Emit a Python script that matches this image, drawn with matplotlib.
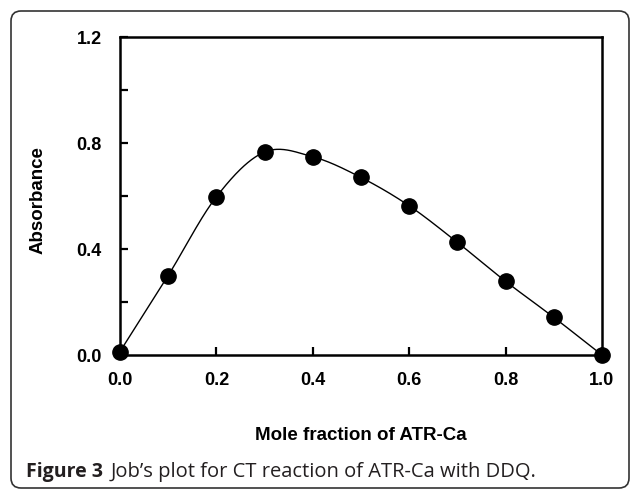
import numpy as np
import matplotlib
matplotlib.use("Agg")
import matplotlib.pyplot as plt
from matplotlib.patches import FancyBboxPatch

mole_fraction = [0.0, 0.1, 0.2, 0.3, 0.4, 0.5, 0.6, 0.7, 0.8, 0.9, 1.0]
absorbance = [0.013, 0.30, 0.597, 0.766, 0.748, 0.670, 0.563, 0.425, 0.278, 0.142, 0.0]
x_ticks = [0.0, 0.2, 0.4, 0.6, 0.8, 1.0]
y_ticks = [0.0, 0.2, 0.4, 0.6, 0.8, 1.0, 1.2]
y_tick_labels = ["0.0", "", "0.4", "", "0.8", "", "1.2"]


def catmull_rom(xs, ys, n=40):
    xs = np.asarray(xs, float)
    ys = np.asarray(ys, float)
    px = np.concatenate([[2 * xs[0] - xs[1]], xs, [2 * xs[-1] - xs[-2]]])
    py = np.concatenate([[2 * ys[0] - ys[1]], ys, [2 * ys[-1] - ys[-2]]])
    ox, oy = [], []
    t = np.linspace(0, 1, n, endpoint=False)
    for i in range(1, len(px) - 2):
        for P, out in ((px, ox), (py, oy)):
            p0, p1, p2, p3 = P[i - 1], P[i], P[i + 1], P[i + 2]
            out.extend(0.5 * ((2 * p1) + (-p0 + p2) * t
                              + (2 * p0 - 5 * p1 + 4 * p2 - p3) * t ** 2
                              + (-p0 + 3 * p1 - 3 * p2 + p3) * t ** 3))
    ox.append(xs[-1]); oy.append(ys[-1])
    return np.array(ox), np.array(oy)


W, H = 630, 490
fig = plt.figure(figsize=(W / 100, H / 100), dpi=100)
ax = fig.add_axes([120 / W, 1 - 355 / H, 482 / W, 318 / H])

cx, cy = catmull_rom(mole_fraction, absorbance)
ax.plot(cx, cy, color="black", lw=1.0, zorder=2)
ax.plot(mole_fraction, absorbance, "o", color="black", ms=11, zorder=3,
        clip_on=False)

ax.set_xlim(0, 1.0)
ax.set_ylim(0, 1.2)
ax.set_xticks(x_ticks)
ax.set_xticklabels([f"{v:.1f}" for v in x_ticks])
ax.set_yticks(y_ticks)
ax.set_yticklabels(y_tick_labels)
for s in ax.spines.values():
    s.set_linewidth(1.8)
ax.tick_params(direction="in", length=6, width=1.6, top=False, right=False,
               labelsize=13)
ax.tick_params(axis="x", pad=12)
ax.tick_params(axis="y", pad=13)
for lab in ax.get_xticklabels() + ax.get_yticklabels():
    lab.set_fontfamily("Liberation Sans")
    lab.set_fontweight("bold")

fig.text(361 / W, 1 - 435 / H, "Mole fraction of ATR-Ca",
         fontfamily="Liberation Sans", fontweight="bold", fontsize=13.5,
         ha="center", va="center")
fig.text(38 / W, 1 - 200 / H, "Absorbance", fontfamily="Liberation Sans",
         fontweight="bold", fontsize=13.5, rotation=90,
         ha="center", va="center")

frame = FancyBboxPatch((11 / 100, (H - 488) / 100), 6.18, 4.77,
                       boxstyle="round,pad=0,rounding_size=0.1",
                       transform=fig.dpi_scale_trans, fill=False,
                       edgecolor="#333333", lw=1.2)
fig.patches.append(frame)

fig.text(26 / W, 1 - 472 / H, "Figure 3", fontfamily="Open Sans",
         fontweight="bold", fontsize=14, color="#231f20", va="center")
fig.text(111 / W, 1 - 472 / H,
         "Job\u2019s plot for CT reaction of ATR-Ca with DDQ.",
         fontfamily="Open Sans", fontsize=14.5, color="#231f20", va="center")

fig.savefig("out.png", dpi=100)
